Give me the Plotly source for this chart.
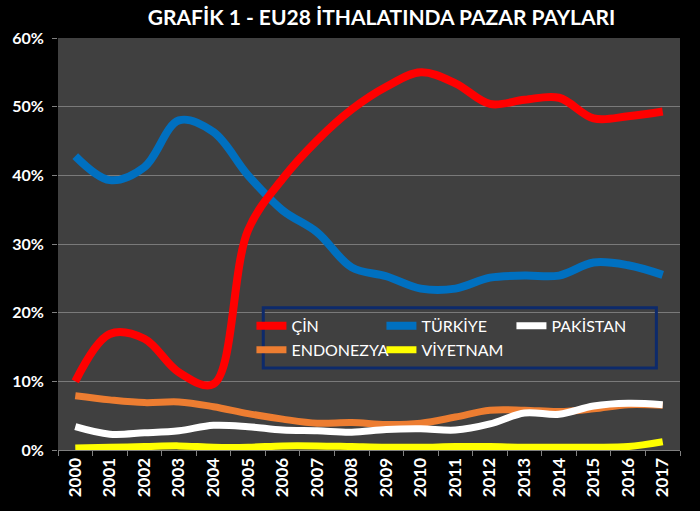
import plotly.graph_objects as go

years = [str(y) for y in range(2000, 2018)]

cin = [10.0, 16.9, 16.2, 11.3, 9.6, 32.0, 39.5, 45.1, 49.6, 52.9, 55.0, 53.4, 50.4, 51.0, 51.3, 48.3, 48.6, 49.3]
turkiye = [42.8, 39.3, 41.2, 48.0, 46.3, 40.0, 34.9, 31.7, 26.6, 25.3, 23.5, 23.5, 25.1, 25.4, 25.4, 27.3, 26.9, 25.5]
pakistan = [3.4, 2.3, 2.5, 2.8, 3.6, 3.4, 2.9, 2.8, 2.6, 3.0, 3.1, 2.9, 3.8, 5.4, 5.2, 6.4, 6.8, 6.6]
endonezya = [7.9, 7.3, 6.9, 7.0, 6.3, 5.3, 4.5, 3.9, 4.0, 3.7, 3.9, 4.8, 5.8, 5.8, 5.6, 6.0, 6.6, 6.5]
viyetnam = [0.3, 0.4, 0.5, 0.6, 0.4, 0.4, 0.6, 0.6, 0.5, 0.4, 0.4, 0.5, 0.5, 0.4, 0.4, 0.4, 0.5, 1.2]

end_labels = ['49%', '26%', '6%', '1%']

FONT = 'Lato'

fig = go.Figure()

# legend columns are done with legend groups (horizontal + grouped)
series = [
    ('ENDONEZYA', endonezya, '#ed7d31', 7, 'g1'),
    ('VİYETNAM', viyetnam, '#ffff00', 7, 'g2'),
    ('PAKİSTAN', pakistan, '#ffffff', 7, 'g3'),
    ('TÜRKİYE', turkiye, '#0070c0', 8, 'g2'),
    ('ÇİN', cin, '#ff0000', 8, 'g1'),
]
rank = {'ÇİN': 1, 'ENDONEZYA': 2, 'TÜRKİYE': 3, 'VİYETNAM': 4, 'PAKİSTAN': 5}

for name, vals, col, w, grp in series:
    fig.add_trace(go.Scatter(
        x=years, y=[v / 100 for v in vals], name=name, mode='lines',
        line=dict(color=col, width=w, shape='spline', smoothing=1.0),
        legendgroup=grp, legendrank=rank[name],
        hovertemplate='%{x}: %{y:.1%}<extra>' + name + '</extra>'
    ))

# end-of-line labels
for txt, vals in zip(end_labels, [cin, turkiye, endonezya, viyetnam]):
    fig.add_annotation(
        x=years[-1], y=vals[-1] / 100, text=txt, showarrow=False,
        yanchor='bottom', yshift=10, xshift=-4,
        font=dict(family=FONT, size=19, color='#e0e0e0')
    )

# legend frame
fig.add_shape(type='rect', xref='paper', yref='paper',
              x0=0.330, x1=0.962, y0=0.199, y1=0.345,
              line=dict(color='#0d2a6b', width=3), fillcolor='rgba(0,0,0,0)')

fig.update_layout(
    width=700, height=511,
    paper_bgcolor='#000000',
    plot_bgcolor='#404040',
    margin=dict(l=56, r=20, t=38, b=61),
    title=dict(text='<b>GRAFİK 1 - EU28 İTHALATINDA PAZAR PAYLARI</b>',
               x=0.545, xanchor='center', y=0.965, yanchor='middle',
               font=dict(family=FONT, size=21, color='#ffffff')),
    legend=dict(orientation='h', traceorder='grouped', x=0.311, y=0.272,
                xanchor='left', yanchor='middle', bgcolor='rgba(0,0,0,0)',
                entrywidth=85, entrywidthmode='pixels', tracegroupgap=0,
                font=dict(family=FONT, size=16, color='#ffffff')),
    showlegend=True,
)

fig.update_xaxes(
    type='category', range=[-0.5, 17.5], tickangle=-90,
    tickson='boundaries', ticks='outside', ticklen=5, tickcolor='#808080',
    showline=True, linecolor='#808080', linewidth=1, showgrid=False,
    tickfont=dict(family=FONT, size=17, color='#ffffff', weight='bold'),
    fixedrange=True
)
fig.update_yaxes(
    range=[0, 0.6], dtick=0.1, tickformat='.0%',
    ticks='outside', ticklen=5, tickcolor='#808080', ticklabelstandoff=5,
    showgrid=True, gridcolor='#7a7a7a', gridwidth=1, zeroline=False,
    showline=False,
    tickfont=dict(family=FONT, size=16, color='#ffffff', weight='bold'),
    fixedrange=True
)

fig.write_html('out.html', config={'displayModeBar': False},
               post_script="document.body.style.margin='0';")
